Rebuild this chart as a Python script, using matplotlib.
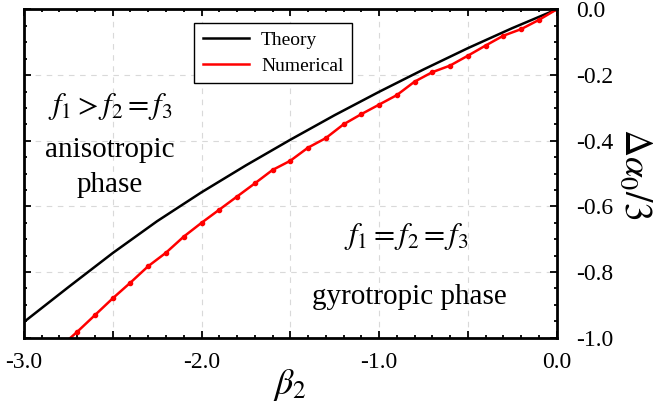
import numpy as np
import matplotlib
matplotlib.use('Agg')
from matplotlib import pyplot as plt
from matplotlib.ticker import MultipleLocator, FuncFormatter

plt.rcParams['font.family'] = 'serif'
plt.rcParams['font.serif'] = ['Liberation Serif', 'DejaVu Serif']
plt.rcParams['mathtext.fontset'] = 'stix'
plt.rcParams['axes.unicode_minus'] = False

# theory curve
beta_theory = [-3.0, -2.75, -2.5, -2.25, -2.0, -1.75, -1.5, -1.25, -1.0, -0.75, -0.5, -0.25, 0.0]
alpha_theory = [-0.952, -0.846, -0.742, -0.645, -0.557, -0.475, -0.397, -0.322, -0.251, -0.183,
                -0.118, -0.057, 0.0]

# numerical points
beta_num = [-2.8, -2.7, -2.6, -2.5, -2.4, -2.3, -2.2, -2.1, -2.0, -1.9, -1.8, -1.7, -1.6, -1.5,
            -1.4, -1.3, -1.2, -1.1, -1.0, -0.9, -0.8, -0.7, -0.6, -0.5, -0.4, -0.3, -0.2, -0.1, 0.0]
alpha_num = [-1.03, -0.982, -0.931, -0.880, -0.832, -0.782, -0.741, -0.692, -0.650, -0.610,
             -0.570, -0.530, -0.489, -0.461, -0.421, -0.392, -0.350, -0.319, -0.290, -0.261,
             -0.220, -0.191, -0.171, -0.141, -0.110, -0.080, -0.060, -0.032, 0.0]

fig = plt.figure(figsize=(6.59, 4.12), dpi=100)
ax = fig.add_axes([0.0364, 0.1803, 0.8081, 0.7967])

ax.plot(beta_theory, alpha_theory, color='black', lw=1.8, label='Theory')
ax.plot(beta_num, alpha_num, color='red', lw=1.8, label='Numerical')
# dots on the numerical curve (kept out of the legend)
ax.plot(beta_num, alpha_num, ls='none', color='red', marker='o', ms=3)

ax.set_xlim(-3.0, 0.0)
ax.set_ylim(-1.0, 0.0)

ax.xaxis.set_major_locator(MultipleLocator(0.5))
ax.xaxis.set_minor_locator(MultipleLocator(0.1))
ax.yaxis.set_major_locator(MultipleLocator(0.2))
ax.yaxis.set_minor_locator(MultipleLocator(0.05))
ax.xaxis.set_major_formatter(FuncFormatter(
    lambda v, p: '{:.1f}'.format(v) if abs(v - round(v)) < 1e-6 else ''))
ax.yaxis.set_major_formatter(FuncFormatter(lambda v, p: '{:.1f}'.format(v)))

ax.tick_params(which='both', direction='in', top=True, bottom=True, left=True, right=True,
               labelleft=False, labelright=True, width=1.3)
ax.tick_params(which='major', length=5)
ax.tick_params(which='minor', length=2.5)
ax.tick_params(axis='x', labelsize=17, pad=10)
ax.tick_params(axis='y', labelsize=17, pad=14)

for s in ax.spines.values():
    s.set_linewidth(2)

ax.grid(True, which='major', ls=(0, (5, 5)), color='#d9d9d9', lw=0.8)

ax.set_xlabel(r'$\beta_2$', fontsize=26, labelpad=-4)
ax.yaxis.set_label_position('right')
ax.set_ylabel(r'$\Delta\alpha_0/3$', fontsize=27, rotation=270, labelpad=28)

ax.text(-2.865, -0.297, r'$f_1 > f_2 = f_3$', fontsize=22, ha='left', va='center')
ax.text(-2.515, -0.428, 'anisotropic', fontsize=21, ha='center', va='center')
ax.text(-2.515, -0.535, 'phase', fontsize=21, ha='center', va='center')
ax.text(-0.846, -0.693, r'$f_1 = f_2 = f_3$', fontsize=22, ha='center', va='center')
ax.text(-0.829, -0.876, 'gyrotropic phase', fontsize=21, ha='center', va='center')

leg = ax.legend(loc='upper left', bbox_to_anchor=(0.319, 0.959), borderaxespad=0,
                fontsize=14, fancybox=False, framealpha=1, edgecolor='black',
                handlelength=2.4, handletextpad=0.6, borderpad=0.45, labelspacing=0.4)
leg.get_frame().set_linewidth(1)

fig.savefig('out.png', dpi=100)
